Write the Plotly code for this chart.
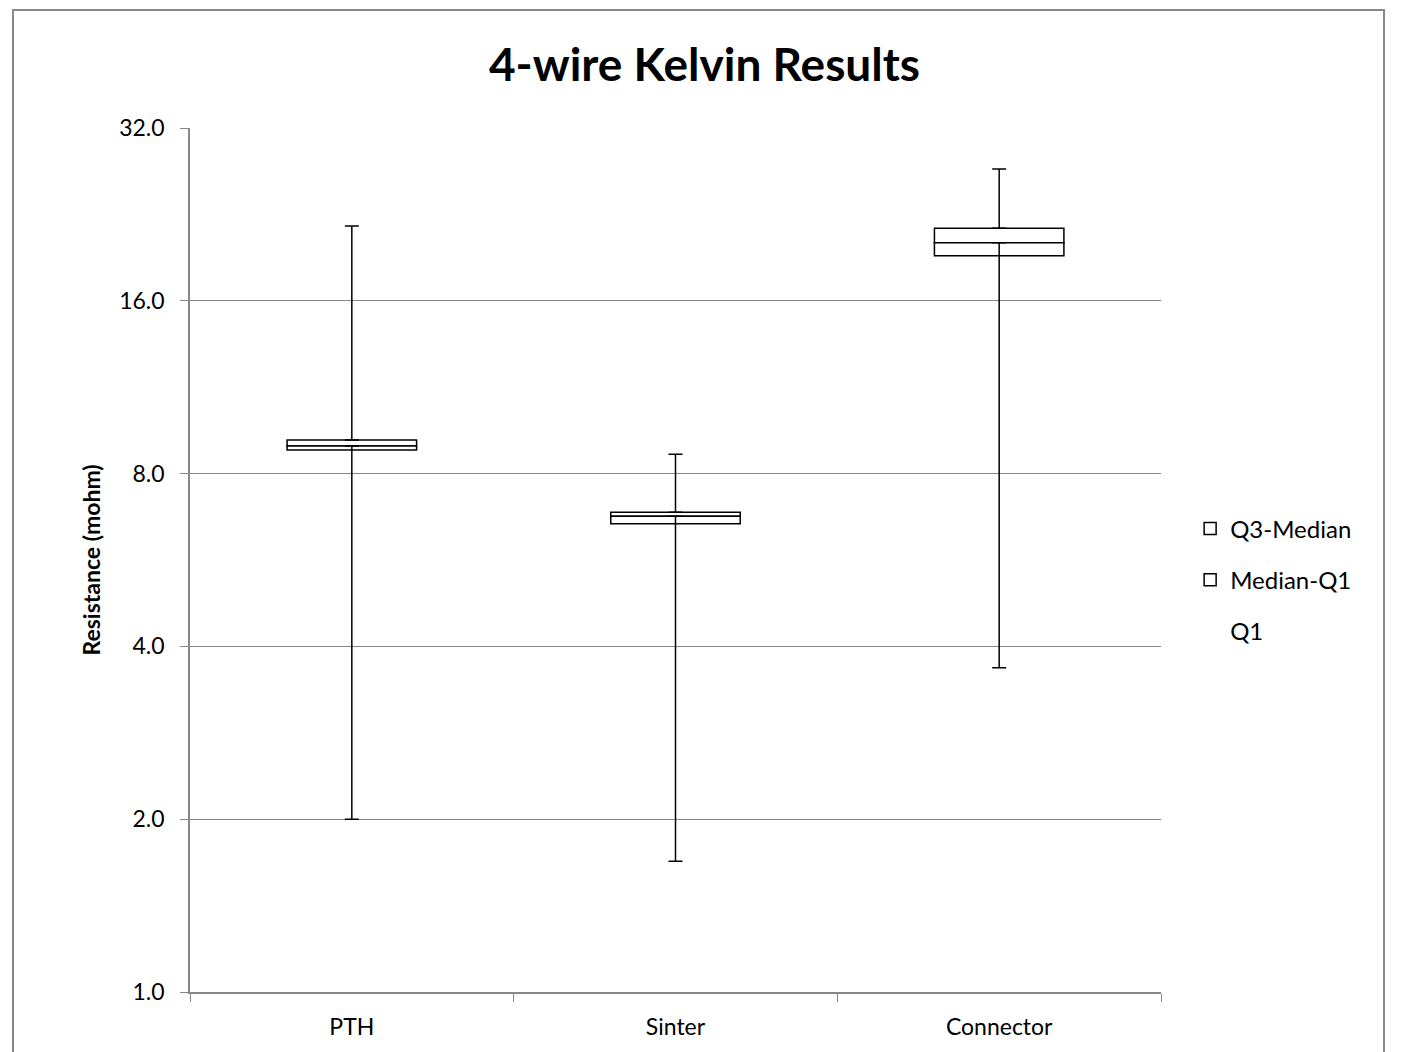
import plotly.graph_objects as go

categories = ["PTH", "Sinter", "Connector"]
minimum = [2.0, 1.69, 3.67]
q1 = [8.79, 6.54, 19.17]
median = [8.94, 6.74, 20.2]
q3 = [9.15, 6.85, 21.4]
maximum = [21.6, 8.65, 27.15]
tick_vals = [1, 2, 4, 8, 16, 32]
tick_text = ["1.0", "2.0", "4.0", "8.0", "16.0", "32.0"]

FONT = "Lato"
med_q1 = [m - a for m, a in zip(median, q1)]
q3_med = [b - m for b, m in zip(q3, median)]

fig = go.Figure()
fig.add_trace(go.Bar(
    x=categories, y=q3_med, base=median, name="Q3-Median", legendgroup="a",
    marker=dict(color="white", line=dict(color="black", width=1.5)),
    width=0.4, legendrank=1))
fig.add_trace(go.Bar(
    x=categories, y=med_q1, base=q1, name="Median-Q1", legendgroup="b",
    marker=dict(color="white", line=dict(color="black", width=1.5)),
    width=0.4, legendrank=2))
fig.add_trace(go.Bar(
    x=categories, y=[0, 0, 0], base=q1, name="Q1", legendgroup="c",
    marker=dict(color="rgba(0,0,0,0)", line=dict(color="rgba(0,0,0,0)", width=0)),
    width=0.4, legendrank=3, hoverinfo="skip"))
# whiskers
fig.add_trace(go.Scatter(
    x=categories, y=q3, mode="markers", marker=dict(size=1, color="rgba(0,0,0,0)"),
    showlegend=False,
    error_y=dict(type="data", symmetric=False,
                 array=[a - b for a, b in zip(maximum, q3)],
                 arrayminus=[0, 0, 0], color="black", thickness=1.5, width=7)))
fig.add_trace(go.Scatter(
    x=categories, y=median, mode="markers", marker=dict(size=1, color="rgba(0,0,0,0)"),
    showlegend=False,
    error_y=dict(type="data", symmetric=False,
                 array=[0, 0, 0],
                 arrayminus=[m - a for m, a in zip(median, minimum)],
                 color="black", thickness=1.5, width=7)))

fig.update_layout(
    width=1393, height=1044,
    margin=dict(l=182, r=240, t=120, b=60),
    paper_bgcolor="white", plot_bgcolor="white",
    barmode="overlay",
    title=dict(text="<b>4-wire Kelvin Results</b>", x=0.5, xanchor="center",
               y=1 - 57 / 1044, yanchor="middle",
               font=dict(family=FONT, size=46, color="black")),
    font=dict(family=FONT, size=24, color="black"),
    legend=dict(x=1.03, y=0.477, xanchor="left", yanchor="middle",
                traceorder="grouped", font=dict(family=FONT, size=24, color="black"),
                tracegroupgap=17, itemwidth=30),
    xaxis=dict(type="category", showline=True, linecolor="#888888", linewidth=1.5,
               ticks="outside", tickson="boundaries", ticklen=8, tickcolor="#888888",
               ticklabelstandoff=14,
               tickfont=dict(family=FONT, size=23, color="black"), showgrid=False),
    yaxis=dict(type="log", range=[0, 1.50515], tickvals=tick_vals, ticktext=tick_text,
               showline=True, linecolor="#888888", linewidth=1.5,
               ticks="outside", ticklen=8, tickcolor="#888888", ticklabelstandoff=11,
               showgrid=True, gridcolor="#888888", gridwidth=1,
               tickfont=dict(family=FONT, size=23, color="black"),
               title=dict(text="<b>Resistance (mohm)</b>", standoff=12,
                          font=dict(family=FONT, size=23, color="black"))),
    shapes=[dict(type="rect", xref="paper", yref="paper",
                 x0=(13 - 190) / 971, x1=(1384 - 190) / 971,
                 y0=(992 - 1070) / 864, y1=(992 - 10) / 864,
                 line=dict(color="#888888", width=2), fillcolor="rgba(0,0,0,0)",
                 layer="below")],
)
fig.write_html("out.html")
